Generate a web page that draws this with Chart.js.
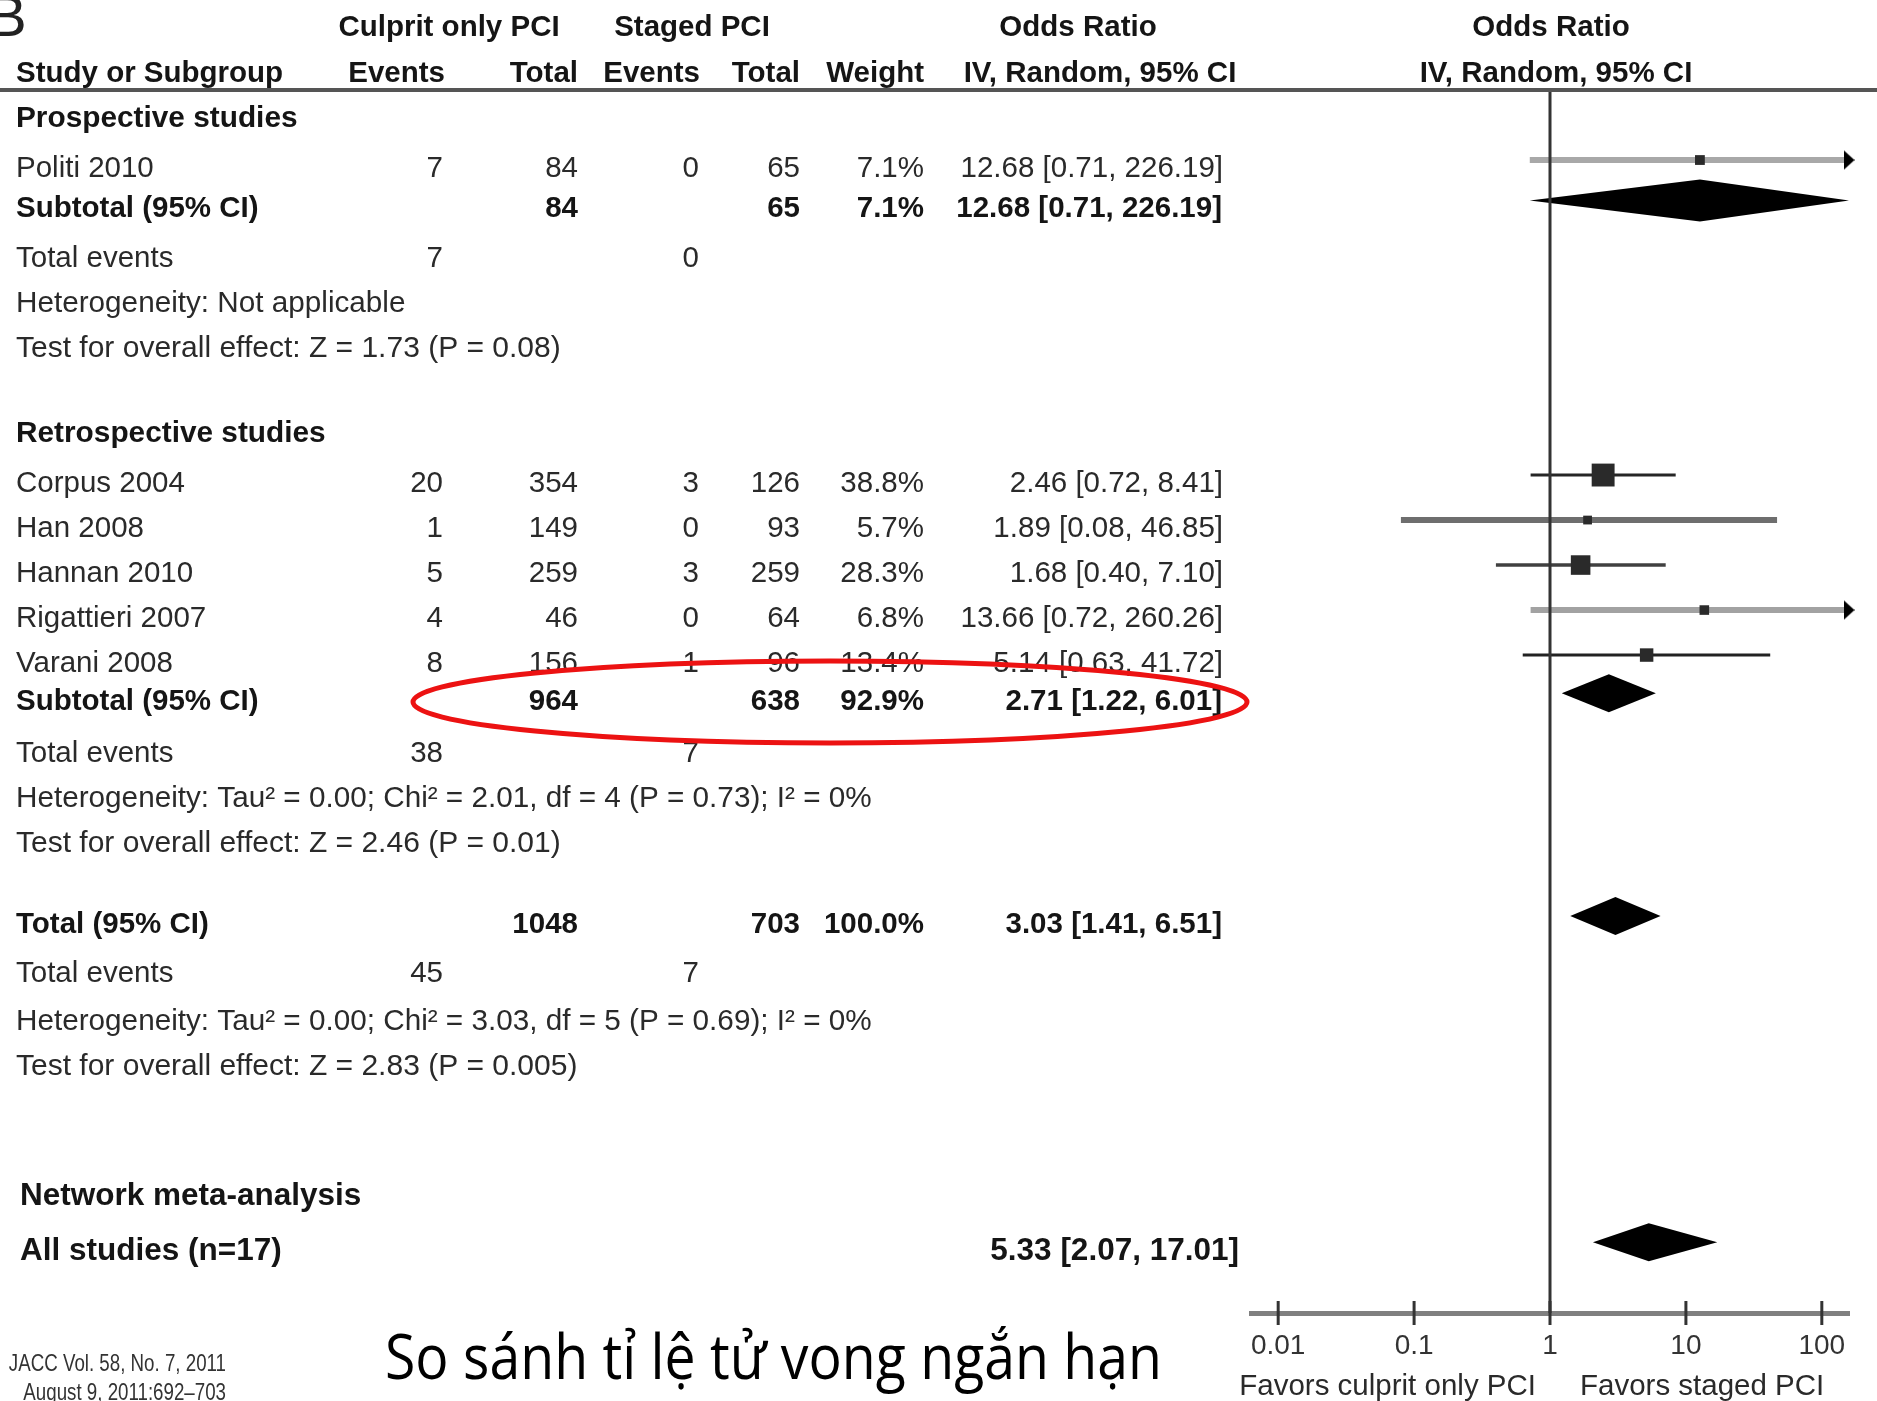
<!DOCTYPE html>
<html lang="en">
<head>
  <meta charset="UTF-8">
  <title>Forest plot - short term mortality</title>
  <script src="https://cdn.jsdelivr.net/npm/chart.js"></script>
  <style>
    body { margin: 0; background: #fff; }
    #wrap { width: 1877px; height: 1401px; }
  </style>
</head>
<body>
  <div id="wrap"><canvas id="forest" width="1877" height="1401"></canvas></div>

  <script>
    // ---- data ----
    const studyNames = ['Politi 2010', 'Corpus 2004', 'Han 2008', 'Hannan 2010', 'Rigattieri 2007', 'Varani 2008'];
    const eventsCulprit = [7, 20, 1, 5, 4, 8];
    const totalCulprit = [84, 354, 149, 259, 46, 156];
    const eventsStaged = [0, 3, 0, 3, 0, 1];
    const totalStaged = [65, 126, 93, 259, 64, 96];
    const weights = [7.1, 38.8, 5.7, 28.3, 6.8, 13.4];
    const orEst = [12.68, 2.46, 1.89, 1.68, 13.66, 5.14];
    const orLow = [0.71, 0.72, 0.08, 0.40, 0.72, 0.63];
    const orHigh = [226.19, 8.41, 46.85, 7.10, 260.26, 41.72];

    const poolNames = ['Subtotal (95% CI)', 'Subtotal (95% CI)', 'Total (95% CI)', 'All studies (n=17)'];
    const poolTotalCulprit = [84, 964, 1048, null];
    const poolTotalStaged = [65, 638, 703, null];
    const poolWeights = [7.1, 92.9, 100.0, null];
    const poolEst = [12.68, 2.71, 3.03, 5.33];
    const poolLow = [0.71, 1.22, 1.41, 2.07];
    const poolHigh = [226.19, 6.01, 6.51, 17.01];

    const groupEventsCulprit = [7, 38, 45];
    const groupEventsStaged = [0, 7, 7];
    const heterogeneity = [
      'Heterogeneity: Not applicable',
      'Heterogeneity: Tau² = 0.00; Chi² = 2.01, df = 4 (P = 0.73); I² = 0%',
      'Heterogeneity: Tau² = 0.00; Chi² = 3.03, df = 5 (P = 0.69); I² = 0%'
    ];
    const overallEffect = [
      'Test for overall effect: Z = 1.73 (P = 0.08)',
      'Test for overall effect: Z = 2.46 (P = 0.01)',
      'Test for overall effect: Z = 2.83 (P = 0.005)'
    ];
    const sectionTitles = ['Prospective studies', 'Retrospective studies', 'Network meta-analysis'];
    const tickValues = [0.01, 0.1, 1, 10, 100];

    // ---- layout (table row slots) ----
    const studyRow = [1, 8, 9, 10, 11, 12];
    const poolRow = [1.9, 12.85, 17.8, 25.05];
    const groupRow = [3, 14, 18.9];
    const hetRow = [4, 15, 19.95];
    const testRow = [5, 16, 20.95];
    const sectionRow = [-0.1, 6.9, 23.83];

    const ciColors = ['#a8a8a8', '#262626', '#6e6e6e', '#404040', '#a2a2a2', '#222'];
    const ciWidths = [6, 3, 6, 3.5, 6, 3];

    const FONT = "'Liberation Sans', Arial, sans-serif";
    const xMin = Math.pow(10, -2.2), xMax = Math.pow(10, 2.2);
    const textDy = 8.5;

    function put(ctx, s, x, y, opt = {}) {
      ctx.save();
      ctx.font = (opt.bold ? 'bold ' : '') + (opt.size || 29.5) + 'px ' + (opt.family || FONT);
      ctx.fillStyle = opt.color || (opt.bold ? '#151515' : '#2a2a2a');
      ctx.textBaseline = 'middle';
      ctx.textAlign = opt.align || 'left';
      ctx.translate(x, y);
      ctx.scale(opt.sx || 1, 1);
      ctx.fillText(s, 0, 0);
      ctx.restore();
    }

    const fmtOR = (e, l, h) => e.toFixed(2) + ' [' + l.toFixed(2) + ', ' + h.toFixed(2) + ']';

    // small arrow head used where a CI runs off the scale
    const arrow = document.createElement('canvas');
    arrow.width = 11; arrow.height = 20;
    const actx = arrow.getContext('2d');
    actx.fillStyle = '#000';
    actx.beginPath(); actx.moveTo(0, 0); actx.lineTo(11, 10); actx.lineTo(0, 20); actx.closePath(); actx.fill();

    const ciSets = studyNames.map((n, i) => ({
      label: n,
      showLine: true,
      data: [{ x: orLow[i], y: studyRow[i] }, { x: Math.min(orHigh[i], xMax), y: studyRow[i] }],
      borderColor: ciColors[i],
      borderWidth: ciWidths[i],
      pointRadius: 0,
      order: 3
    }));

    const offScale = studyNames.map((n, i) => i).filter(i => orHigh[i] > xMax);

    // column text + diamonds + reference lines
    const forestPlugin = {
      id: 'forest',
      afterDatasetsDraw(chart) {
        const { ctx, chartArea, scales: { x, y } } = chart;
        // diamonds
        ctx.save();
        ctx.fillStyle = '#000';
        poolEst.forEach((e, i) => {
          const yc = y.getPixelForValue(poolRow[i]);
          const h = i === 0 ? 21 : 19;
          const xl = x.getPixelForValue(Math.max(poolLow[i], xMin));
          const xr = x.getPixelForValue(Math.min(poolHigh[i], xMax));
          const xc = x.getPixelForValue(e);
          ctx.beginPath();
          ctx.moveTo(xl, yc); ctx.lineTo(xc, yc - h); ctx.lineTo(xr, yc); ctx.lineTo(xc, yc + h);
          ctx.closePath(); ctx.fill();
        });
        ctx.restore();

        // line of no effect
        const x1 = x.getPixelForValue(1);
        ctx.save();
        ctx.strokeStyle = '#333'; ctx.lineWidth = 3;
        ctx.beginPath(); ctx.moveTo(x1, chartArea.top); ctx.lineTo(x1, chartArea.bottom); ctx.stroke();
        // tick marks across the axis
        tickValues.forEach(v => {
          const px = x.getPixelForValue(v);
          ctx.beginPath(); ctx.moveTo(px, chartArea.bottom - 12); ctx.lineTo(px, chartArea.bottom + 12); ctx.stroke();
        });
        // header rule
        ctx.strokeStyle = '#555'; ctx.lineWidth = 4;
        ctx.beginPath(); ctx.moveTo(0, chartArea.top); ctx.lineTo(chart.width, chartArea.top); ctx.stroke();
        ctx.restore();
      },
      afterDraw(chart) {
        const { ctx, scales: { x, y } } = chart;
        const ry = r => y.getPixelForValue(r) + textDy;

        put(ctx, 'B', -12, 20, { size: 58, color: '#222' });

        // headers
        put(ctx, 'Culprit only PCI', 449, 28, { bold: true, align: 'center' });
        put(ctx, 'Staged PCI', 692, 28, { bold: true, align: 'center' });
        put(ctx, 'Odds Ratio', 1078, 28, { bold: true, align: 'center' });
        put(ctx, 'Odds Ratio', 1551, 28, { bold: true, align: 'center' });
        put(ctx, 'Study or Subgroup', 16, 74, { bold: true });
        put(ctx, 'Events', 445, 74, { bold: true, align: 'right' });
        put(ctx, 'Total', 578, 74, { bold: true, align: 'right' });
        put(ctx, 'Events', 700, 74, { bold: true, align: 'right' });
        put(ctx, 'Total', 800, 74, { bold: true, align: 'right' });
        put(ctx, 'Weight', 924, 74, { bold: true, align: 'right' });
        put(ctx, 'IV, Random, 95% CI', 1100, 74, { bold: true, align: 'center' });
        put(ctx, 'IV, Random, 95% CI', 1556, 74, { bold: true, align: 'center' });

        sectionTitles.forEach((t, i) => put(ctx, t, i === 2 ? 20 : 16, ry(sectionRow[i]), { bold: true, size: i === 2 ? 31.5 : 29.8 }));

        studyNames.forEach((n, i) => {
          const yy = ry(studyRow[i]);
          put(ctx, n, 16, yy);
          put(ctx, String(eventsCulprit[i]), 443, yy, { align: 'right' });
          put(ctx, String(totalCulprit[i]), 578, yy, { align: 'right' });
          put(ctx, String(eventsStaged[i]), 699, yy, { align: 'right' });
          put(ctx, String(totalStaged[i]), 800, yy, { align: 'right' });
          put(ctx, weights[i].toFixed(1) + '%', 924, yy, { align: 'right' });
          put(ctx, fmtOR(orEst[i], orLow[i], orHigh[i]), 1223, yy, { align: 'right' });
        });

        poolNames.forEach((n, i) => {
          const yy = ry(poolRow[i]);
          const last = poolTotalCulprit[i] === null;
          const size = last ? 31.5 : 29.5;
          put(ctx, n, last ? 20 : 16, yy, { bold: true, size });
          if (!last) {
            put(ctx, String(poolTotalCulprit[i]), 578, yy, { bold: true, align: 'right' });
            put(ctx, String(poolTotalStaged[i]), 800, yy, { bold: true, align: 'right' });
            put(ctx, poolWeights[i].toFixed(1) + '%', 924, yy, { bold: true, align: 'right' });
          }
          put(ctx, fmtOR(poolEst[i], poolLow[i], poolHigh[i]), last ? 1239 : 1222, yy, { bold: true, align: 'right', size });
        });

        groupEventsCulprit.forEach((v, i) => {
          const yy = ry(groupRow[i]);
          put(ctx, 'Total events', 16, yy);
          put(ctx, String(v), 443, yy, { align: 'right' });
          put(ctx, String(groupEventsStaged[i]), 699, yy, { align: 'right' });
          put(ctx, heterogeneity[i], 16, ry(hetRow[i]), { size: 29.7 });
          put(ctx, overallEffect[i], 16, ry(testRow[i]), { size: 30 });
        });

        // axis captions
        const x1 = x.getPixelForValue(1);
        put(ctx, 'Favors culprit only PCI', x1 - 14, 1387, { align: 'right' });
        put(ctx, 'Favors staged PCI', x1 + 30, 1387);

        // red highlight ring
        ctx.save();
        ctx.strokeStyle = 'rgb(236, 18, 18)'; ctx.lineWidth = 5;
        ctx.beginPath(); ctx.ellipse(830, 702, 417, 41, 0, 0, Math.PI * 2); ctx.stroke();
        ctx.restore();

        // citation + slide title
        put(ctx, 'JACC Vol. 58, No. 7, 2011', 226, 1364, { size: 24, sx: 0.78, align: 'right', color: '#333' });
        put(ctx, 'August 9, 2011:692–703', 226, 1393, { size: 24, sx: 0.78, align: 'right', color: '#333' });
        ctx.save();
        const title = 'So sánh tỉ lệ tử vong ngắn hạn';
        ctx.font = "62px 'Open Sans', sans-serif";
        const w = ctx.measureText(title).width;
        ctx.restore();
        put(ctx, title, 385, 1361, { size: 62, family: "'Open Sans', sans-serif", sx: 777 / w, color: '#000' });
      }
    };

    new Chart(document.getElementById('forest'), {
      type: 'scatter',
      data: {
        datasets: [
          ...ciSets,
          {
            label: 'Study OR',
            data: studyNames.map((n, i) => ({ x: orEst[i], y: studyRow[i] })),
            pointStyle: 'rect',
            pointRadius: weights.map(w => 2.6 * Math.sqrt(w)),
            backgroundColor: '#2a2a2a',
            borderWidth: 0,
            order: 2
          },
          {
            label: 'Off scale',
            data: offScale.map(i => ({ x: xMax, y: studyRow[i] })),
            pointStyle: arrow,
            clip: false,
            order: 1
          }
        ]
      },
      options: {
        responsive: false,
        devicePixelRatio: 1,
        animation: false,
        layout: { padding: { left: 1251, right: 28, top: 90, bottom: 0 } },
        plugins: { legend: { display: false }, tooltip: { enabled: false } },
        scales: {
          x: {
            type: 'logarithmic',
            min: xMin,
            max: xMax,
            afterBuildTicks: s => { s.ticks = tickValues.map(v => ({ value: v })); },
            afterFit: s => { s.height = 88; },
            grid: { display: true, drawOnChartArea: false, drawTicks: false, color: 'rgba(0,0,0,0)' },
            border: { display: true, color: '#808080', width: 5 },
            ticks: {
              font: { family: FONT, size: 28 },
              color: '#333',
              padding: 16,
              maxRotation: 0,
              autoSkip: false,
              callback: v => String(v)
            }
          },
          y: {
            type: 'linear',
            display: false,
            reverse: true,
            min: -0.556,
            max: 26.62
          }
        }
      },
      plugins: [forestPlugin]
    });
  </script>
</body>
</html>
